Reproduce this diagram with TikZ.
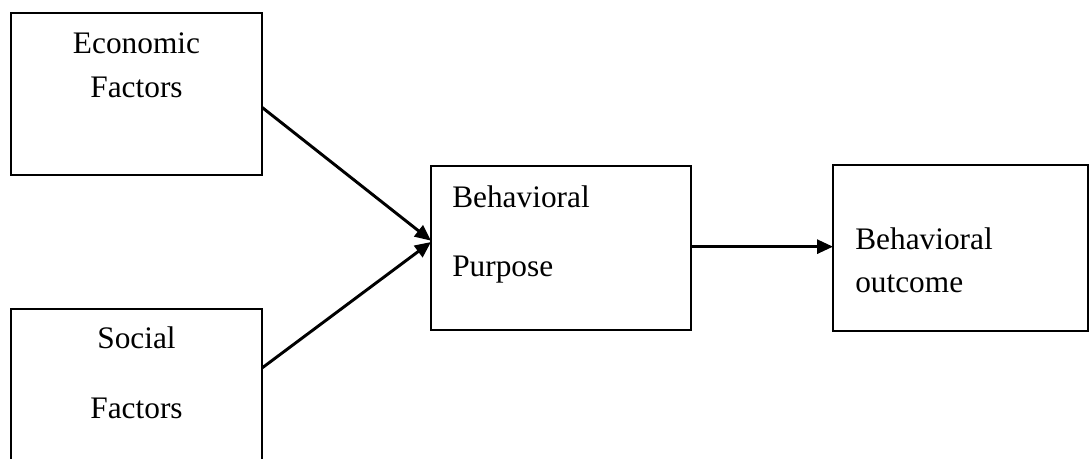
\documentclass[tikz,border=0pt]{standalone}
\usepackage{fontspec}
\setmainfont{Liberation Serif}
\usetikzlibrary{arrows.meta}
\begin{document}
\begin{tikzpicture}[x=0.75pt,y=-0.75pt,
  box/.style={draw,line width=2.2pt,inner sep=0pt,outer sep=0pt},
  lbl/.style={inner sep=0pt,font=\fontsize{23.5}{28}\selectfont},
  conn/.style={line width=2.2pt,-{Triangle[length=12pt,width=10.5pt]}}]
\useasboundingbox (0,0) rectangle (1090,458);
\clip (0,0) rectangle (1090,458);
\fill[white] (0,0) rectangle (1090,458);
\node[box,minimum width=188.25pt,minimum height=121.5pt] (econ) at (136.5,94) {};
\node[box,minimum width=188.25pt,minimum height=158.25pt] (social) at (136.5,414.5) {};
\node[box,minimum width=195pt,minimum height=123pt] (purpose) at (561,248) {};
\node[box,minimum width=191.25pt,minimum height=124.5pt] (outcome) at (960.5,248) {};
\node[lbl,anchor=base] (t1) at (136.5,53) {Economic};
\node[lbl,anchor=base] (t2) at (136.5,97) {Factors};
\node[lbl,anchor=base] (t3) at (136.5,348) {Social};
\node[lbl,anchor=base] (t4) at (136.5,418) {Factors};
\node[lbl,anchor=base west] (t5) at (452,207) {Behavioral};
\node[lbl,anchor=base west] (t6) at (452,276) {Purpose};
\node[lbl,anchor=base west] (t7) at (855,249) {Behavioral};
\node[lbl,anchor=base west] (t8) at (855,292) {outcome};
\draw[conn] ([yshift=-10pt]econ.east) -- ([yshift=5.5pt]purpose.west);
\draw[conn] (social.east |- 0,368) -- ([yshift=4.5pt]purpose.west);
\draw[conn] ([yshift=1pt]purpose.east) -- ([yshift=1pt]outcome.west);
\end{tikzpicture}
\end{document}
